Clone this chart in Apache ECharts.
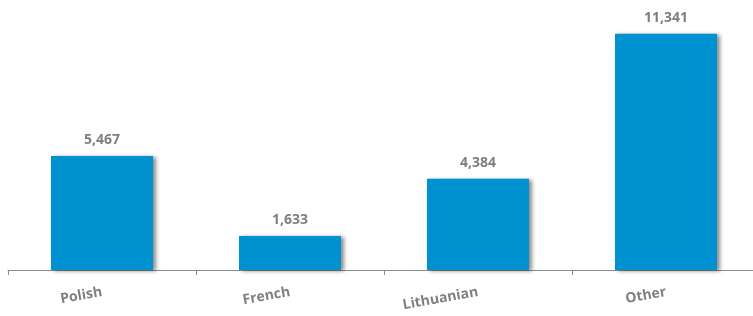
<!DOCTYPE html>
<html>
<head>
<meta charset="utf-8">
<script src="https://cdn.jsdelivr.net/npm/echarts@6/dist/echarts.min.js"></script>
<style>
html, body { margin: 0; padding: 0; background: #fff; }
#chart { width: 753px; height: 316px; }
</style>
</head>
<body>
<div id="chart"></div>
<script>
var categories = ['Polish', 'French', 'Lithuanian', 'Other'];
var values = [5467, 1633, 4384, 11341];

var chart = echarts.init(document.getElementById('chart'));
var option = {
    animation: false,
    grid: {
        left: 8,
        right: -7,
        top: 20,
        bottom: 46,
        outerBoundsMode: 'none',
        containLabel: false
    },
    xAxis: {
        type: 'category',
        data: categories,
        axisLine: { show: true, lineStyle: { color: '#8c8c8c', width: 1 } },
        axisTick: { show: true, length: 5, lineStyle: { color: '#8c8c8c' } },
        axisLabel: {
            rotate: 10,
            margin: 22,
            color: '#7f7f7f',
            fontFamily: 'Open Sans',
            fontWeight: 'bold',
            fontSize: 14
        }
    },
    yAxis: {
        type: 'value',
        min: 0,
        max: 12000,
        show: false,
        splitLine: { show: false }
    },
    series: [{
        type: 'bar',
        data: values,
        barWidth: 102,
        itemStyle: {
            color: '#0091d1',
            shadowColor: 'rgba(0,0,0,0.45)',
            shadowBlur: 4,
            shadowOffsetX: 3,
            shadowOffsetY: 1
        },
        label: {
            show: true,
            position: 'top',
            distance: 9,
            color: '#7f7f7f',
            fontFamily: 'Open Sans',
            fontWeight: 'bold',
            fontSize: 14,
            formatter: function (p) {
                return p.value.toLocaleString('en-US');
            }
        }
    }]
};
chart.setOption(option);
</script>
</body>
</html>
